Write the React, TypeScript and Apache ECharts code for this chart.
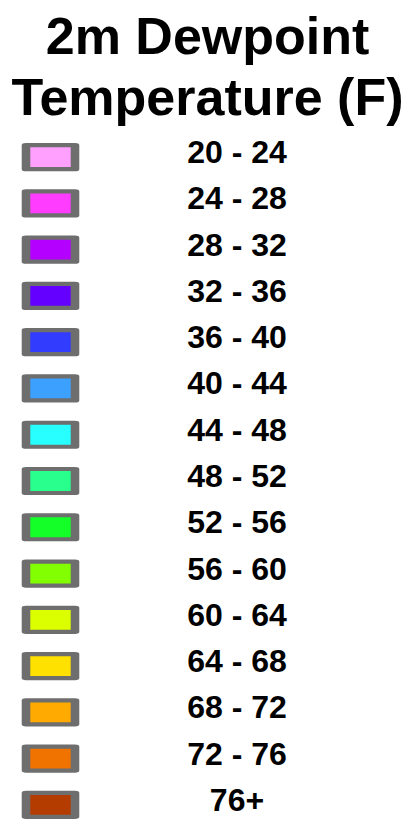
import React, { useEffect, useRef } from "react";
import * as echarts from "echarts";

const titleLines = ["2m Dewpoint", "Temperature (F)"];
const rangeLabels = [
  "20 - 24", "24 - 28", "28 - 32", "32 - 36", "36 - 40",
  "40 - 44", "44 - 48", "48 - 52", "52 - 56", "56 - 60",
  "60 - 64", "64 - 68", "68 - 72", "72 - 76", "76+",
];
const swatchColors = [
  "#ffa0ff", "#ff3cff", "#b400ff", "#6400ff", "#323cff",
  "#3ca0ff", "#28ffff", "#28ff8c", "#14ff28", "#82ff00",
  "#dcff00", "#ffe100", "#ffaa00", "#f07300", "#b43c00",
];

const FONT = "'Liberation Sans', Arial, Helvetica, sans-serif";

export default function App() {
  const ref = useRef<HTMLDivElement>(null);
  useEffect(() => {
    if (!ref.current) return;
    const chart = echarts.init(ref.current, null, { renderer: "svg" });
    chart.setOption({
      animation: false,
      backgroundColor: "#ffffff",
      title: {
        text: titleLines.join("\n"),
        left: "center",
        top: 0,
        textStyle: {
          fontFamily: FONT,
          fontSize: 52,
          fontWeight: "bold",
          lineHeight: 61,
          color: "#000000",
        },
      },
      grid: { left: 0, right: 0, top: 134, bottom: 3 },
      xAxis: { type: "value", min: 0, max: 415, show: false },
      yAxis: {
        type: "category",
        inverse: true,
        data: rangeLabels,
        show: false,
      },
      series: [
        {
          type: "scatter",
          symbol: "rect",
          symbolSize: [49, 24],
          data: rangeLabels.map((name, i) => ({
            name,
            value: [50.5, i],
            itemStyle: {
              color: swatchColors[i],
              borderColor: "#6e6e6e",
              borderWidth: 6,
              borderJoin: "round",
              opacity: 1,
            },
          })),
          label: {
            show: true,
            position: "inside",
            formatter: (p: any) => p.name,
            offset: [186.5, -5],
            align: "center",
            verticalAlign: "middle",
            fontFamily: FONT,
            fontSize: 32,
            fontWeight: "bold",
            color: "#000000",
            opacity: 1,
          },
          emphasis: { disabled: true },
        },
      ],
    });
    return () => chart.dispose();
  }, []);
  return (
    <div
      ref={ref}
      style={{ position: "absolute", left: 0, top: 0, width: 415, height: 831 }}
    />
  );
}
